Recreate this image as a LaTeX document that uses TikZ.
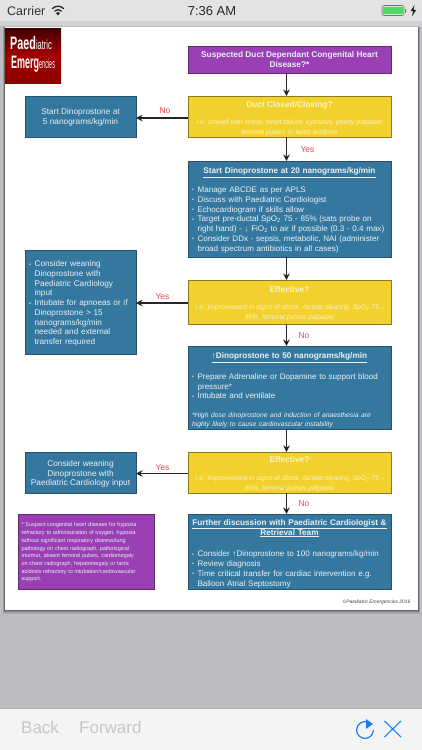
\documentclass[tikz,border=0pt]{standalone}
\usepackage{fontspec}
\setmainfont{Liberation Sans}
\usetikzlibrary{arrows.meta}
\definecolor{pgbg}{HTML}{BDBCC1}
\definecolor{barbg}{HTML}{E3E3E3}
\definecolor{toolbg}{HTML}{F4F4F4}
\definecolor{bluefill}{HTML}{35789F}
\definecolor{blueedge}{HTML}{27506B}
\definecolor{yelfill}{HTML}{F2D12E}
\definecolor{yeledge}{HTML}{8A7A22}
\definecolor{purfill}{HTML}{9B3FB5}
\definecolor{puredge}{HTML}{5B2B6E}
\definecolor{softw}{HTML}{E9F1F6}
\definecolor{softy}{HTML}{FBF3C0}
\definecolor{lblred}{HTML}{F0474F}
\definecolor{iosblue}{HTML}{1A7EF0}
\definecolor{battgreen}{HTML}{4CD964}
\newcommand{\pebul}{\leavevmode\makebox[5.6pt][l]{\raisebox{.6pt}{\scalebox{.65}{•}}}}
\newcommand{\peind}{\leavevmode\hspace*{5.6pt}}
\newcommand{\pefs}[2]{\fontsize{#1}{#2}\selectfont}
\newcommand{\pejl}[1]{\makebox[\linewidth][s]{#1}}
\newcommand{\pehead}[1]{\makebox[\linewidth][c]{\textbf{#1}}}
\newcommand{\petop}[1]{\leavevmode\rule{0pt}{#1}}
\tikzset{
  x=1pt,y=-1pt,
  flowbox/.style={draw,line width=.7pt,anchor=north west,inner sep=0pt,outer sep=0pt,
    text=softw,align=left,font=\pefs{8.05}{9.75}},
  bluebox/.style={flowbox,fill=bluefill,draw=blueedge},
  yelbox/.style={flowbox,fill=yelfill,draw=yeledge,text=softy,align=center},
  purbox/.style={flowbox,fill=purfill,draw=puredge,align=center},
  flow/.style={line width=1.2pt,black!85,-{Stealth[length=6.5pt,width=6.5pt]}},
  lbl/.style={text=lblred,font=\pefs{8.5}{10},inner sep=0pt},
}
\begin{document}
\begin{tikzpicture}
\useasboundingbox (0,0) rectangle (422,750);
\fill[pgbg] (0,0) rectangle (422,750);
\fill[barbg] (0,0) rectangle (422,21);
\fill[black!18] (0,21) rectangle (422,26);
% page with shadow
\foreach \o/\a in {4/.08,3/.1,2/.14,1/.2}{\fill[black,opacity=\a] (5-\o*.6,27) rectangle (418+\o*.6,610+\o);}
\fill[white] (5,27) rectangle (418,610);
% status bar
\node[anchor=west,inner sep=0pt,font=\pefs{12.5}{14},text=black!80] (carrier) at (7,11) {Carrier};
\node[inner sep=0pt,font=\pefs{13}{15},text=black!85] (clock) at (212,11) {7:36 AM};
\begin{scope}[black!85,line cap=round]
\draw[line width=1.3pt] (52.5,8.5) arc[start angle=225,end angle=315,radius=7.8];
\draw[line width=1.3pt] (54.8,11) arc[start angle=225,end angle=315,radius=4.6];
\fill (58,15.5) -- (55.9,12.9) arc[start angle=230,end angle=310,radius=3.2] -- cycle;
\end{scope}
\draw[black!55,line width=.6pt,rounded corners=2pt] (382,5.5) rectangle (404,15.5);
\fill[battgreen] (383.2,6.7) rectangle (402.8,14.3);
\fill[black!55] (405,8.5) rectangle (406,12.5);
\fill[black!85] (414.5,5) -- (410.5,11.2) -- (413,11.2) -- (412,16.5) -- (416.3,9.8) -- (413.7,9.8) -- cycle;
% logo
\shade[top color=black!75!red,bottom color=red!55!black,middle color=red!65!black] (5,28) rectangle (61,83);
\node[anchor=west,inner sep=0pt,text=white] (logoa) at (10,43.5) {\scalebox{.6}[1]{\pefs{18}{18}\textbf{Paed}}\scalebox{.58}[1]{\pefs{13}{13}iatric}};
\node[anchor=west,inner sep=0pt,text=white] (logob) at (11,64) {\scalebox{.5}[1]{\pefs{18}{18}\textbf{Emerg}}\scalebox{.42}[1]{\pefs{13}{13}encies}};
% main column
\node[purbox,minimum width=203pt,minimum height=27pt,text=softw,font=\pefs{8.3}{9.8}] (suspect) at (188,46) {\textbf{Suspected Duct Dependant Congenital Heart}\\\textbf{Disease?*}};
\node[yelbox,minimum width=203pt,minimum height=41pt] (duct) at (188,96) {\petop{10pt}\pefs{8.3}{10}\textbf{Duct Closed/Closing?}\\[7pt]\pefs{6.8}{8.3}\textit{i.e. Unwell with shock, heart failure, cyanosis, poorly palpable}\\\pefs{6.8}{8.3}\textit{femoral pulses or lactic acidosis}};
\node[bluebox,minimum width=203pt,minimum height=96pt,text width=195pt] (twenty) at (188,161) {\petop{8.5pt}\pehead{\pefs{8.2}{9.8}\underline{Start Dinoprostone at 20 nanograms/kg/min}}\\[9pt]
\pebul Manage ABCDE as per APLS\\
\pebul Discuss with Paediatric Cardiologist\\
\pebul Echocardiogram if skills allow\\
\pebul Target pre-ductal SpO\textsubscript{2} 75 - 85\% (sats probe on\\
\peind\mbox{right hand) - ↓ FiO\textsubscript{2} to air if possible (0.3 - 0.4 max)}\\
\pebul Consider DDx - sepsis, metabolic, NAI (administer\\
\peind broad spectrum antibiotics in all cases)};
\node[yelbox,minimum width=203pt,minimum height=44pt] (eff1) at (188,280) {\petop{9pt}\pefs{8.3}{10}\textbf{Effective?}\\[8pt]\pefs{6.8}{8.4}\textit{i.e. Improvement in signs of shock, lactate clearing, SpO\textsubscript{2} 75 -}\\\pefs{6.8}{8.4}\textit{85\%, femoral  pulses palpable}};
\node[bluebox,minimum width=203pt,minimum height=83pt,text width=195pt] (fifty) at (188,346) {\petop{12pt}\pehead{\pefs{8.2}{9.8}\underline{↑Dinoprostone to 50 nanograms/kg/min}}\\[11pt]
\pebul Prepare Adrenaline or Dopamine to support blood\\
\peind pressure*\\
\pebul Intubate and ventilate\\[10pt]
\pefs{6.75}{8.2}\pejl{\textit{*High dose dinoprostone and induction of anaesthesia are}}\\
\pefs{6.75}{8.2}\textit{highly likely to cause cardiovascular instability}};
\node[yelbox,minimum width=203pt,minimum height=41pt] (eff2) at (188,452) {\petop{9pt}\pefs{8.3}{10}\textbf{Effective?}\\[8pt]\pefs{6.8}{8.4}\textit{i.e. Improvement in signs of shock, lactate clearing, SpO\textsubscript{2} 75 -}\\\pefs{6.8}{8.4}\textit{85\%, femoral  pulses palpable}};
\node[bluebox,minimum width=203pt,minimum height=75pt,text width=195pt] (further) at (188,514) {\petop{10pt}\pehead{\pefs{8.2}{9.8}\underline{Further discussion with Paediatric Cardiologist \&}}\\
\pehead{\pefs{8.2}{9.8}\underline{Retrieval Team}}\\[12pt]
\pebul Consider ↑Dinoprostone to 100 nanograms/kg/min\\
\pebul Review diagnosis\\
\pebul Time critical transfer for cardiac intervention e.g.\\
\peind Balloon Atrial  Septostomy};
% left column
\node[bluebox,minimum width=111pt,minimum height=41pt,align=center,font=\pefs{8.3}{9.75}] (five) at (25,96) {\petop{8pt}Start Dinoprostone at\\5 nanograms/kg/min};
\node[bluebox,minimum width=111pt,minimum height=104pt,text width=103pt,font=\pefs{8.2}{9.75}] (wean1) at (25,250) {\petop{9pt}\pebul Consider weaning\\
\peind Dinoprostone with\\
\peind Paediatric Cardiology\\
\peind input\\
\pebul Intubate for apnoeas or if\\
\peind Dinoprostone > 15\\
\peind nanograms/kg/min\\
\peind needed and external\\
\peind transfer required};
\node[bluebox,minimum width=111pt,minimum height=41pt,align=center,font=\pefs{8.3}{9.75}] (wean2) at (25,452) {\petop{9pt}Consider weaning\\Dinoprostone with\\Paediatric Cardiology input};
\node[purbox,minimum width=136pt,minimum height=75pt,text width=129pt,align=left,font=\pefs{5.5}{7.7}] (note) at (18,514) {\petop{6pt}\pejl{* Suspect congenital heart disease for hypoxia}\\
\pejl{refractory to administration of oxygen, hypoxia}\\
\pejl{without significant respiratory distress/lung}\\
\pejl{pathology on chest radiograph, pathological}\\
\pejl{murmur, absent femoral pulses, cardiomegaly}\\
\pejl{on chest radiograph, hepatomegaly or lactic}\\
\pejl{acidosis refractory to intubation/cardiovascular}\\
support.};
\node[anchor=east,inner sep=0pt,text=black!75,font=\pefs{4.9}{6}\itshape] (copy) at (410.5,602.5) {©Paediatric Emergencies 2016};
% connectors
\draw[flow] ([xshift=-3pt]suspect.south) -- ([xshift=-3pt]duct.north);
\draw[flow] ([xshift=-3pt]duct.south) -- ([xshift=-3pt]twenty.north);
\draw[flow] ([xshift=-3pt]twenty.south) -- ([xshift=-3pt]eff1.north);
\draw[flow] ([xshift=-3pt]eff1.south) -- ([xshift=-3pt]fifty.north);
\draw[flow] ([xshift=-3pt]fifty.south) -- ([xshift=-3pt]eff2.north);
\draw[flow] ([xshift=-3pt]eff2.south) -- ([xshift=-3pt]further.north);
\draw[flow] ([yshift=-1.5pt]duct.west) -- ([yshift=-1.5pt]five.east);
\draw[flow] ([yshift=-1pt]eff1.west) -- ([yshift=-1pt]wean1.east);
\draw[flow] ([yshift=-1pt]eff2.west) -- ([yshift=-1pt]wean2.east);
\node[lbl] (l1) at (165,111) {No};
\node[lbl] (l2) at (307.5,149.5) {Yes};
\node[lbl] (l3) at (162.5,296.5) {Yes};
\node[lbl] (l4) at (304,335.5) {No};
\node[lbl] (l5) at (162.5,468) {Yes};
\node[lbl] (l6) at (304,504) {No};
% toolbar
\fill[toolbg] (0,708) rectangle (422,750);
\draw[black!30,line width=.5pt] (0,708.5) -- (422,708.5);
\node[anchor=west,inner sep=0pt,text=black!22,font=\pefs{17}{20}] (back) at (21,727.5) {Back};
\node[anchor=west,inner sep=0pt,text=black!22,font=\pefs{17}{20}] (forward) at (79,727.5) {Forward};
\draw[iosblue,line width=1.2pt] (373.4,730) arc[start angle=0,end angle=-295,x radius=8.4,y radius=-8.4];
\fill[iosblue] (366,719) -- (373,724) -- (366,729) -- cycle;
\draw[iosblue,line width=1.1pt] (384.5,721) -- (401,737);
\draw[iosblue,line width=1.1pt] (401,721) -- (384.5,737);
\end{tikzpicture}
\end{document}
